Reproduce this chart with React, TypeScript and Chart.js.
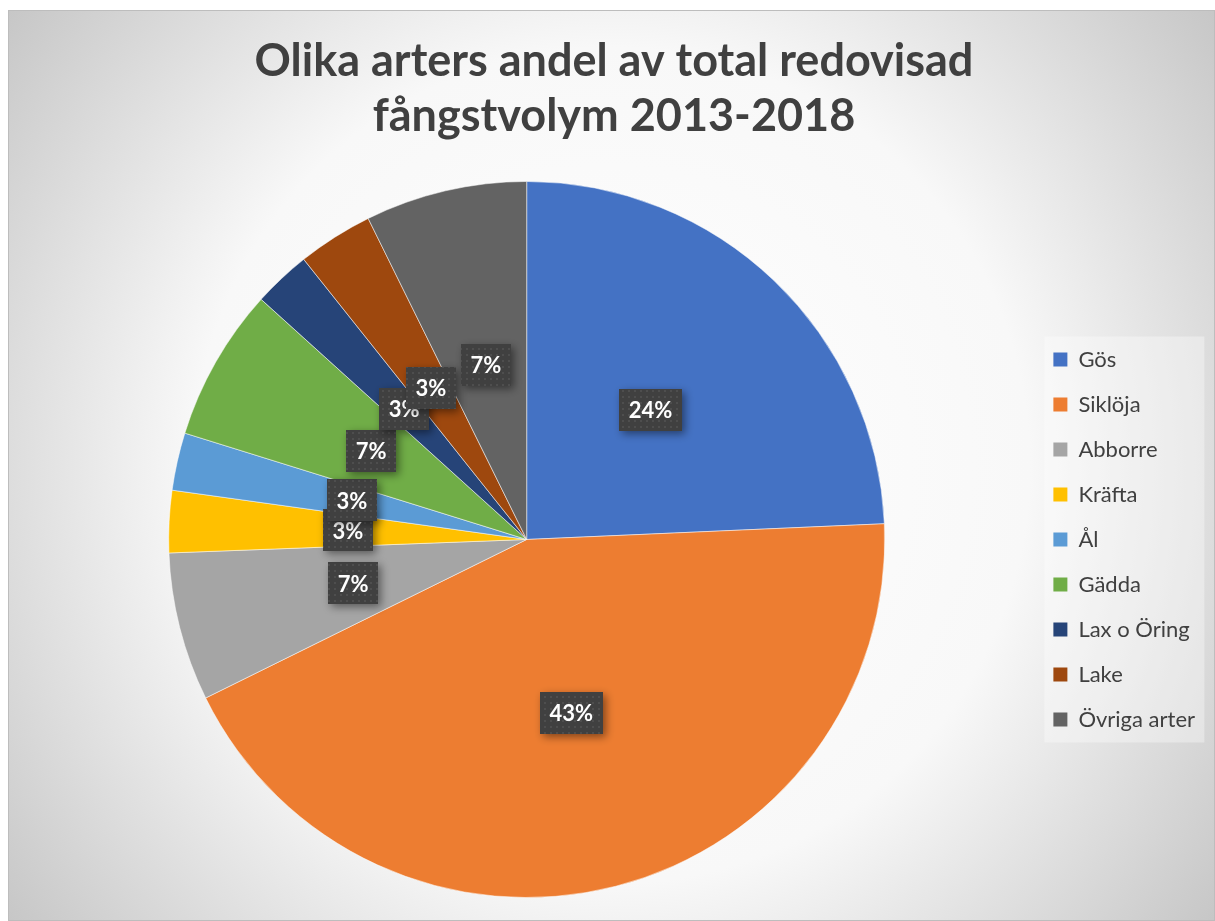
import React, { useEffect, useRef } from "react";
import { Chart, registerables } from "chart.js";

Chart.register(...registerables);

const TITLE_LINES = ["Olika arters andel av total redovisad", "fångstvolym 2013-2018"];
const SPECIES = ["Gös", "Siklöja", "Abborre", "Kräfta", "Ål", "Gädda", "Lax o Öring", "Lake", "Övriga arter"];
const SHARES = [24.3, 43.4, 6.7, 2.8, 2.6, 6.9, 2.6, 3.4, 7.3];
const COLORS = ["#4472C4", "#ED7D31", "#A5A5A5", "#FFC000", "#5B9BD5", "#70AD47", "#264478", "#9E480E", "#636363"];

const W = 1207;
const H = 911;

function makePattern(ctx: CanvasRenderingContext2D) {
  const c = document.createElement("canvas");
  c.width = 6;
  c.height = 6;
  const p = c.getContext("2d")!;
  p.fillStyle = "#404040";
  p.fillRect(0, 0, 6, 6);
  p.fillStyle = "#4e4e4e";
  p.fillRect(2, 2, 2, 2);
  return ctx.createPattern(c, "repeat");
}

const backgroundPlugin = {
  id: "bgPlugin",
  beforeDraw(chart: any) {
    const ctx = chart.ctx as CanvasRenderingContext2D;
    const cw = chart.width;
    const ch = chart.height;
    ctx.save();
    const g = ctx.createRadialGradient(cw / 2, ch / 2, 0, cw / 2, ch / 2, 760);
    g.addColorStop(0, "#ffffff");
    g.addColorStop(0.55, "#f8f8f8");
    g.addColorStop(1, "#c6c6c6");
    ctx.fillStyle = g;
    ctx.fillRect(0, 0, cw, ch);
    ctx.strokeStyle = "#bdbdbd";
    ctx.lineWidth = 1;
    ctx.strokeRect(0.5, 0.5, cw - 1, ch - 1);
    const lg = chart.legend;
    if (lg && lg.legendHitBoxes && lg.legendHitBoxes.length) {
      const hb = lg.legendHitBoxes;
      const left = hb[0].left - 9;
      const top = hb[0].top - 12;
      const bottom = hb[hb.length - 1].top + hb[hb.length - 1].height + 12;
      ctx.fillStyle = "rgba(255,255,255,0.35)";
      ctx.fillRect(left, top, 160, bottom - top);
    }
    ctx.restore();
  },
};

const labelPlugin = {
  id: "pctLabels",
  afterDatasetsDraw(chart: any) {
    const ctx = chart.ctx as CanvasRenderingContext2D;
    const meta = chart.getDatasetMeta(0);
    const values = chart.data.datasets[0].data as number[];
    const total = values.reduce((a, b) => a + b, 0);
    const pattern = makePattern(ctx);
    ctx.save();
    ctx.font = "bold 22px Lato";
    ctx.textAlign = "center";
    ctx.textBaseline = "middle";
    meta.data.forEach((arc: any, i: number) => {
      const { x, y } = arc.getCenterPoint();
      const txt = Math.round((values[i] / total) * 100) + "%";
      const w = ctx.measureText(txt).width + 19;
      const h = 42;
      ctx.save();
      ctx.shadowColor = "rgba(0,0,0,0.45)";
      ctx.shadowBlur = 8;
      ctx.shadowOffsetX = 3;
      ctx.shadowOffsetY = 3;
      ctx.fillStyle = pattern || "#404040";
      ctx.fillRect(Math.round(x - w / 2), Math.round(y - h / 2), Math.round(w), h);
      ctx.restore();
      ctx.fillStyle = "#ffffff";
      ctx.fillText(txt, x, y + 1);
    });
    ctx.restore();
  },
};

export default function App() {
  const ref = useRef<HTMLCanvasElement | null>(null);

  useEffect(() => {
    if (!ref.current) return;
    const chart = new Chart(ref.current, {
      type: "pie",
      data: {
        labels: SPECIES,
        datasets: [
          {
            data: SHARES,
            backgroundColor: COLORS,
            borderColor: "rgba(255,255,255,0.5)",
            borderWidth: 1,
          },
        ],
      },
      options: {
        responsive: false,
        animation: false,
        layout: { padding: { left: 15, right: 10, top: 0, bottom: 23 } },
        plugins: {
          title: {
            display: true,
            text: TITLE_LINES,
            color: "#404040",
            font: { family: "Lato", size: 45, weight: "bold", lineHeight: 1.244 },
            padding: { top: 23, bottom: 36 },
          },
          legend: {
            position: "right",
            align: "center",
            fullSize: false,
            labels: {
              boxWidth: 14,
              boxHeight: 14,
              padding: 23,
              color: "#404040",
              font: { family: "Lato", size: 22 },
              generateLabels(chart: any) {
                const base = (Chart as any).overrides.pie.plugins.legend.labels.generateLabels(chart);
                return base.map((l: any) => ({ ...l, lineWidth: 0, strokeStyle: "rgba(0,0,0,0)" }));
              },
            },
          },
          tooltip: { enabled: false },
        },
      },
      plugins: [backgroundPlugin, labelPlugin],
    });
    return () => chart.destroy();
  }, []);

  return (
    <div style={{ position: "fixed", left: 8, top: 10, width: W, height: H }}>
      <canvas ref={ref} width={W} height={H} />
    </div>
  );
}
